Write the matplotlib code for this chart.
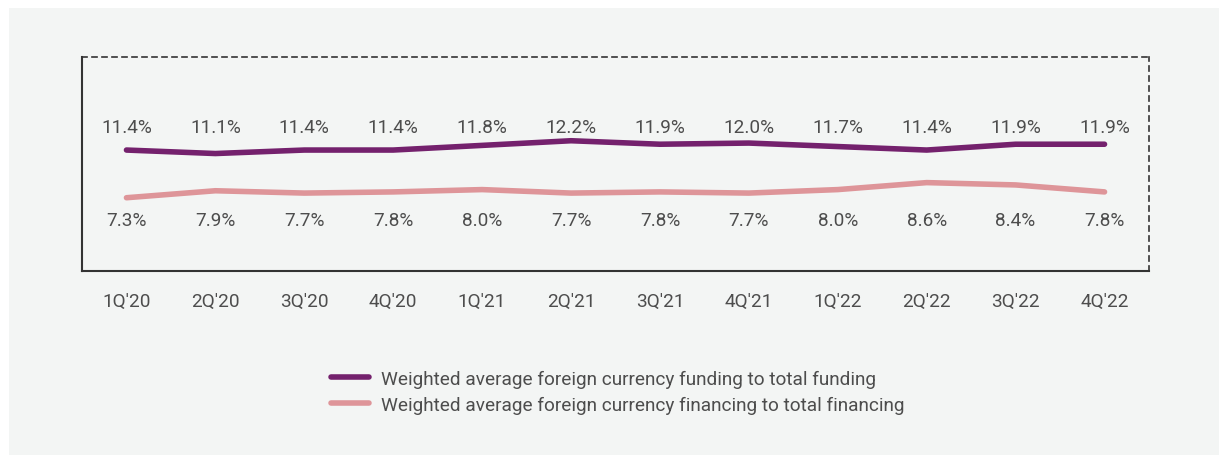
import matplotlib
matplotlib.use("Agg")
import matplotlib.pyplot as plt
from matplotlib.patches import Rectangle
from matplotlib.lines import Line2D

quarters = ["1Q'20", "2Q'20", "3Q'20", "4Q'20", "1Q'21", "2Q'21",
            "3Q'21", "4Q'21", "1Q'22", "2Q'22", "3Q'22", "4Q'22"]
funding = [11.4, 11.1, 11.4, 11.4, 11.8, 12.2, 11.9, 12.0, 11.7, 11.4, 11.9, 11.9]
financing = [7.3, 7.9, 7.7, 7.8, 8.0, 7.7, 7.8, 7.7, 8.0, 8.6, 8.4, 7.8]
legend_labels = ["Weighted average foreign currency funding to total funding",
                 "Weighted average foreign currency financing to total financing"]

PURPLE = "#74216d"
PINK = "#de9599"
TEXT = "#4d4d4d"
BG = "#f3f5f4"
FS = 13.7
W, H = 1219, 456

plt.rcParams["font.family"] = ["Roboto", "DejaVu Sans"]

fig = plt.figure(figsize=(W / 100, H / 100), dpi=100, facecolor="white")
fig.patches.append(Rectangle((9 / W, 0), 1 - 9 / W, 1 - 9 / H,
                             transform=fig.transFigure, facecolor=BG,
                             edgecolor="none", zorder=-10))

ax = fig.add_axes([82 / W, 1 - 272 / H, (1149 - 82) / W, (272 - 58) / H])
ax.set_facecolor(BG)
x = list(range(len(quarters)))
ax.plot(x, funding, color=PURPLE, lw=4, solid_capstyle="round")
ax.plot(x, financing, color=PINK, lw=4, solid_capstyle="round")

# value labels sit on two fixed rows, not on the lines
for i, (a, b) in enumerate(zip(funding, financing)):
    ax.text(i, 13.4, f"{a:.1f}%", ha="center", va="center",
            fontsize=FS, color=TEXT)
    ax.text(i, 5.4, f"{b:.1f}%", ha="center", va="center",
            fontsize=FS, color=TEXT)

ax.set_xlim(-0.5, 11.5)
ax.set_ylim(1.0, 19.4)
ax.set_xticks(x)
ax.set_xticklabels(quarters, fontsize=FS, color=TEXT)
ax.tick_params(axis="x", length=0, pad=15)
ax.set_yticks([])
for side in ["left", "bottom"]:
    ax.spines[side].set_color("#333333")
    ax.spines[side].set_linewidth(1.5)
for side in ["top", "right"]:
    ax.spines[side].set_color("#333333")
    ax.spines[side].set_linewidth(1.2)
    ax.spines[side].set_linestyle((0, (3, 3)))

handles = [Line2D([0], [0], color=PURPLE, lw=4, solid_capstyle="round"),
           Line2D([0], [0], color=PINK, lw=4, solid_capstyle="round")]
leg = fig.legend(handles, legend_labels, loc="center left",
                 bbox_to_anchor=(314 / W, 1 - 393 / H), frameon=False,
                 fontsize=FS, handlelength=2.0, handletextpad=0.6,
                 labelspacing=0.42)
for t in leg.get_texts():
    t.set_color(TEXT)

fig.savefig("out.png", dpi=100, facecolor="white")
